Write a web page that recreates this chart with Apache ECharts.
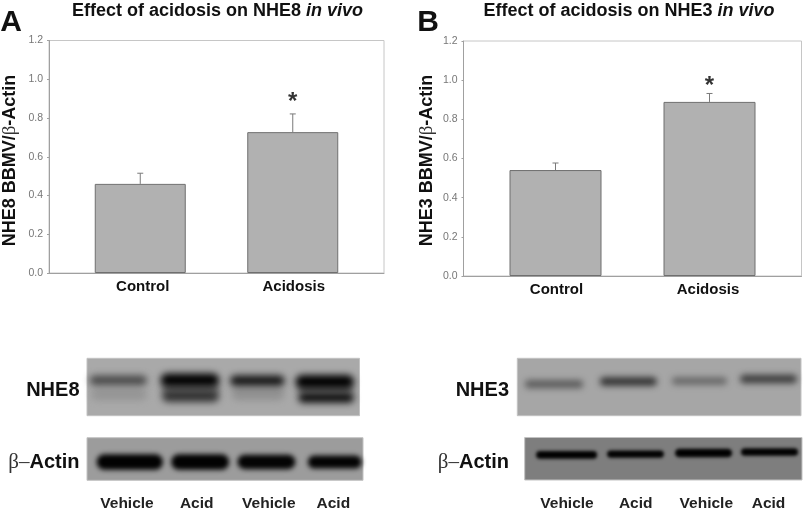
<!DOCTYPE html>
<html><head><meta charset="utf-8">
<style>html,body{margin:0;padding:0;background:#fff}#c{width:803px;height:515px}</style>
<script src="https://cdn.jsdelivr.net/npm/echarts@6/dist/echarts.min.js"></script>
</head><body><div id="c"></div>
<script>
const groups = ['Control','Acidosis'];
const yTicksMax = 1.2;
const nhe8Values = [0.46, 0.727];
const nhe8Upper  = [0.515, 0.821];
const nhe3Values = [0.541, 0.889];
const nhe3Upper  = [0.577, 0.932];
const nhe8Star = [1, 0.88];
const nhe3Star = [1, 0.97];
const laneLabels = ['Vehicle','Acid','Vehicle','Acid'];

// gel bands: [laneStart%, laneEnd%, centre%, thickness%, shade]
const nhe8Bands = [
 [1.5,22,63,20,'#959595'],[53,72.5,61,24,'#919191'],
 [27.5,48.5,51.7,16,'#6a6a6a'],[77.5,97.5,53,12,'#505050'],
 [27.5,48.5,65.5,21,'#343434'],[77.5,98,68.5,18,'#0e0e0e'],
 [1,22,38.5,17,'#4a4a4a'],[27,48.5,38,23,'#020202'],[52.5,72.5,39,18,'#141414'],[76.5,98,40.5,23,'#000000']
];
const actinABands = [
 [3.5,27.5,57,36,'#020202'],[30.5,51.5,57,36,'#020202'],[54.5,75.5,57,34,'#040404'],[80,99.5,57,31,'#040404']
];
const nhe3Bands = [
 [2.7,23.2,45,14,'#5e5e5e'],[29.1,49.2,40.5,15,'#333333'],[54.5,73.9,39.5,13,'#686868'],[78.5,98.6,36,15,'#3e3e3e']
];
const actinBBands = [
 [4.1,26.1,41,18,'#000000'],[29.7,50.2,39,17,'#000000'],[54.2,74.8,36.5,20,'#000000'],[78,98.6,34,18,'#000000']
];

const FONT = '"Liberation Sans", Arial, sans-serif';
const SERIF = '"Liberation Serif", serif';
const grids = [], xAxes = [], yAxes = [], series = [];

function addChart(frame, inner, values, upper, star, barW, labelShift) {
  const oi = grids.length;
  grids.push({left:frame.l, top:frame.t, width:frame.r-frame.l, height:frame.b-frame.t, show:true,
    borderColor:'#c6c6c6', borderWidth:1, backgroundColor:'#fff'});
  xAxes.push({gridIndex:oi, type:'category', data:[''], axisTick:{show:false}, axisLabel:{show:false},
    axisLine:{lineStyle:{color:'#a0a0a0',width:1}}});
  yAxes.push({gridIndex:oi, type:'value', min:0, max:yTicksMax, interval:0.2, splitLine:{show:false},
    axisLine:{show:true,lineStyle:{color:'#a0a0a0',width:1}}, axisTick:{show:true,length:2,lineStyle:{color:'#a0a0a0'}},
    axisLabel:{color:'#777',fontFamily:FONT,fontSize:10.5,margin:6,formatter:v=>v.toFixed(1)}});
  const ii = grids.length;
  grids.push({left:inner.l, top:frame.t, width:inner.r-inner.l, height:frame.b-frame.t});
  xAxes.push({gridIndex:ii, type:'category', data:groups, axisLine:{show:false}, axisTick:{show:false},
    axisLabel:{color:'#111',fontFamily:FONT,fontWeight:'bold',fontSize:15,margin:6,
      formatter:(v,i)=>'{s'+i+'|'+v+'}',
      rich:{s0:{padding:labelShift[0],fontFamily:FONT,fontWeight:'bold',fontSize:15,color:'#111'},
            s1:{padding:labelShift[1],fontFamily:FONT,fontWeight:'bold',fontSize:15,color:'#111'}}}});
  yAxes.push({gridIndex:ii, type:'value', min:0, max:yTicksMax, show:false});
  series.push({type:'bar', xAxisIndex:ii, yAxisIndex:ii, data:values, barWidth:barW, z:3,
    itemStyle:{color:'#b1b1b1',borderColor:'#6f6f6f',borderWidth:1}});
  series.push({type:'custom', xAxisIndex:ii, yAxisIndex:ii, z:2,
    data:values.map((v,i)=>[i,v,upper[i]]),
    encode:{x:0,y:[1,2]},
    renderItem:(p,api)=>{
      const a=api.coord([api.value(0),api.value(1)]), b=api.coord([api.value(0),api.value(2)]);
      const st={stroke:'#7a7a7a',lineWidth:1,fill:null};
      return {type:'group',children:[
        {type:'line',shape:{x1:a[0],y1:a[1],x2:b[0],y2:b[1]},style:st},
        {type:'line',shape:{x1:b[0]-3,y1:b[1],x2:b[0]+3,y2:b[1]},style:st}
      ]};
    }});
  series.push({type:'scatter', xAxisIndex:ii, yAxisIndex:ii, data:[star], symbolSize:1, z:4,
    itemStyle:{color:'transparent'},
    label:{show:true,position:'inside',formatter:'*',fontFamily:FONT,fontWeight:'bold',fontSize:24,color:'#000'}});
}

function addGel(box, bg, bands, blur) {
  const i = grids.length;
  grids.push({left:box.l, top:box.t, width:box.r-box.l, height:box.b-box.t, show:true, borderWidth:1, borderColor:'#c2c2c2', backgroundColor:bg});
  xAxes.push({gridIndex:i, type:'value', min:0, max:100, show:false});
  yAxes.push({gridIndex:i, type:'value', min:0, max:100, inverse:true, show:false});
  series.push({type:'custom', xAxisIndex:i, yAxisIndex:i, z:2, data:bands.map(b=>[b[0],b[1],b[2],b[3]]),
    encode:{x:[0,1],y:2},
    renderItem:(p,api)=>{
      const a=api.coord([api.value(0),api.value(2)]), c=api.coord([api.value(1),api.value(2)]);
      const d=api.coord([0,api.value(2)+api.value(3)/2]);
      const shade=bands[p.dataIndex][4], h=(d[1]-a[1])*2, away=3000;
      return {type:'rect',shape:{x:a[0]-away,y:a[1]-h/2,width:c[0]-a[0],height:h,r:h/2},
        style:{fill:shade,shadowBlur:blur,shadowColor:shade,shadowOffsetX:away}};
    }});
}

addChart({l:49,r:384,t:40.5,b:273},{l:64,r:369},nhe8Values,nhe8Upper,nhe8Star,91,[[0,0,0,5],[0,0,0,2]]);
addChart({l:463.5,r:801.5,t:41,b:276},{l:478.5,r:786.5},nhe3Values,nhe3Upper,nhe3Star,92,[[0,0,0,2],[0,3,0,0]]);
addGel({l:87,r:359.5,t:358.3,b:415.7},'#a9a9a9',nhe8Bands,7);
addGel({l:87,r:363,t:437.7,b:480.3},'#9c9c9c',actinABands,5);
addGel({l:517.3,r:801,t:358.3,b:415.7},'#a6a6a6',nhe3Bands,6);
addGel({l:524.7,r:802,t:437.5,b:480},'#7e7e7e',actinBBands,3.5);

function txt(x,y,text,size,align,extra){
  return {type:'text',x:x,y:y,style:Object.assign({text:text,fontFamily:FONT,fontWeight:'bold',fontSize:size,
    fill:'#111',textAlign:align||'center',textVerticalAlign:'middle'},extra||{})};
}
function richTxt(x,y,parts,size,rotation,align){
  return {type:'text',x:x,y:y,rotation:rotation||0,style:{text:parts,rich:{
    b:{fontFamily:FONT,fontWeight:'bold',fontSize:size,fill:'#111'},
    i:{fontFamily:FONT,fontWeight:'bold',fontStyle:'italic',fontSize:size,fill:'#111'},
    g:{fontFamily:SERIF,fontSize:size+1,fill:'#333'}},textAlign:align||'center',textVerticalAlign:'middle'}};
}
const graphics = [
  txt(11,23,'A',30),
  txt(428,23,'B',30),
  richTxt(217.5,11,'{b|Effect of acidosis on NHE8 }{i|in vivo}',18),
  richTxt(629,11,'{b|Effect of acidosis on NHE3 }{i|in vivo}',18),
  richTxt(10,160.5,'{b|NHE8 BBMV/}{g|β}{b|-Actin}',18,Math.PI/2),
  richTxt(426.7,160.5,'{b|NHE3 BBMV/}{g|β}{b|-Actin}',18,Math.PI/2),
  txt(79.5,390,'NHE8',20,'right'),
  richTxt(79.5,462,'{g|β–}{b|Actin}',20,0,'right'),
  txt(509,390,'NHE3',20,'right'),
  richTxt(509,462,'{g|β–}{b|Actin}',20,0,'right')
];
const laneA=[127,196.7,268.8,333.3], laneB=[567,635.7,706.3,768.5];
laneLabels.forEach((l,i)=>{
  graphics.push(txt(laneA[i],504,l,15.5,'center',{fill:'#222'}));
  graphics.push(txt(laneB[i],504,l,15.5,'center',{fill:'#222'}));
});

const chart = echarts.init(document.getElementById('c'),null,{renderer:'canvas'});
chart.setOption({animation:false,backgroundColor:'#fff',grid:grids,xAxis:xAxes,yAxis:yAxes,series:series,graphic:graphics});
</script></body></html>
